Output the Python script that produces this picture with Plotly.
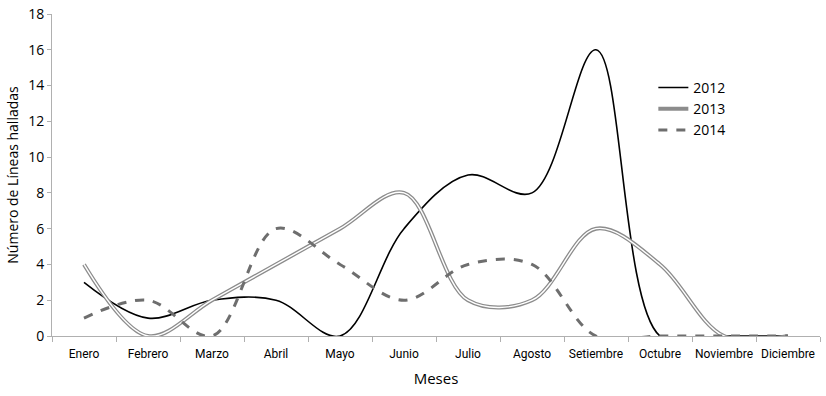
import plotly.graph_objects as go

meses = ["Enero", "Febrero", "Marzo", "Abril", "Mayo", "Junio", "Julio",
         "Agosto", "Setiembre", "Octubre", "Noviembre", "Diciembre"]
y2012 = [3, 1, 2, 2, 0, 6, 9, 8, 16, 0, 0, 0]
y2013 = [4, 0, 2, 4, 6, 8, 2, 2, 6, 4, 0, 0]
y2014 = [1, 2, 0, 6, 4, 2, 4, 4, 0, 0, 0, 0]

fig = go.Figure()
fig.add_trace(go.Scatter(x=meses, y=y2012, name="2012", mode="lines",
                         line=dict(color="black", width=1.6, shape="spline", smoothing=1)))
fig.add_trace(go.Scatter(x=meses, y=y2013, name="2013", mode="lines",
                         line=dict(color="#8c8c8c", width=4, shape="spline", smoothing=1)))
fig.add_trace(go.Scatter(x=meses, y=y2013, name="2013", mode="lines", showlegend=False,
                         hoverinfo="skip",
                         line=dict(color="white", width=1.4, shape="spline", smoothing=1)))
fig.add_trace(go.Scatter(x=meses, y=y2014, name="2014", mode="lines",
                         line=dict(color="#6e6e6e", width=3, dash="dash", shape="spline", smoothing=1)))

fig.update_layout(
    width=826, height=396,
    margin=dict(l=52, r=6, t=14, b=60),
    paper_bgcolor="white", plot_bgcolor="white",
    font=dict(family="Open Sans", color="black"),
    showlegend=True,
    legend=dict(x=0.783, y=0.82, xanchor="left", yanchor="top",
                font=dict(size=14), bgcolor="rgba(0,0,0,0)", tracegroupgap=0,
                itemwidth=30),
    xaxis=dict(type="category", range=[-0.5, 11.5], showgrid=False,
               showline=True, linecolor="#b0b0b0", linewidth=1,
               ticks="outside", tickson="boundaries", ticklen=5, tickcolor="#b0b0b0",
               tickangle=0, automargin=False, ticklabelstandoff=7,
               tickfont=dict(size=12, family="Liberation Sans Narrow, Roboto"),
               title=dict(text="Meses", font=dict(size=15), standoff=13)),
    yaxis=dict(range=[0, 18], dtick=2, showgrid=False, zeroline=False,
               showline=True, linecolor="#b0b0b0", linewidth=1,
               ticks="outside", ticklen=4, tickcolor="#b0b0b0",
               automargin=False,
               tickfont=dict(size=14),
               title=dict(text="Número de Líneas halladas", font=dict(size=14), standoff=6)),
)

fig.write_html("out.html", config={"displayModeBar": False},
               post_script="document.body.style.margin='0';")
